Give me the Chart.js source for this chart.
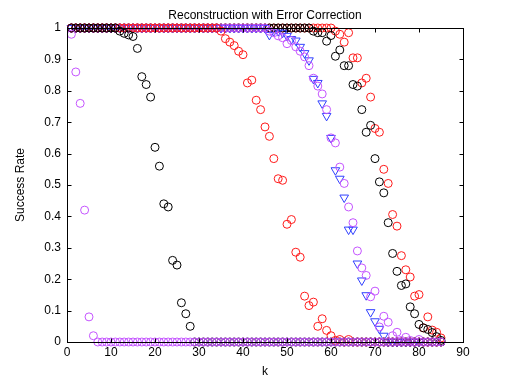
<!DOCTYPE html>
<html>
<head>
<meta charset="utf-8">
<script src="https://cdn.jsdelivr.net/npm/chart.js@4/dist/chart.umd.min.js"></script>
<style>
  html, body { margin: 0; padding: 0; background: #fff; }
  #chart { display: block; }
</style>
</head>
<body>
<canvas id="chart" width="512" height="385"></canvas>
<script>
// success rate per k (k = 1..85)
const blackA = [
  1, 1, 1, 1, 1, 1, 1, 1, 1, 1,
  1, 0.99, 0.983, 0.978, 0.973, 0.935, 0.845, 0.82, 0.78, 0.62,
  0.56, 0.44, 0.43, 0.26, 0.245, 0.125, 0.09, 0.05, 0, 0,
  0, 0, 0, 0, 0, 0, 0, 0, 0, 0,
  0, 0, 0, 0, 0, 0, 0, 0, 0, 0,
  0, 0, 0, 0, 0, 0, 0, 0, 0, 0,
  0, 0, 0, 0, 0, 0, 0, 0, 0, 0,
  0, 0, 0, 0, 0, 0, 0, 0, 0, 0,
  0, 0, 0, 0, 0
];
const magentaA = [
  0.98, 0.86, 0.76, 0.42, 0.08, 0.02, 0, 0, 0, 0,
  0, 0, 0, 0, 0, 0, 0, 0, 0, 0,
  0, 0, 0, 0, 0, 0, 0, 0, 0, 0,
  0, 0, 0, 0, 0, 0, 0, 0, 0, 0,
  0, 0, 0, 0, 0, 0, 0, 0, 0, 0,
  0, 0, 0, 0, 0, 0, 0, 0, 0, 0,
  0, 0, 0, 0, 0, 0, 0, 0, 0, 0,
  0, 0, 0, 0, 0, 0, 0, 0, 0, 0,
  0, 0, 0, 0, 0
];
const redA = [
  1, 1, 1, 1, 1, 1, 1, 1, 1, 1,
  1, 1, 1, 1, 1, 1, 1, 1, 1, 1,
  1, 1, 1, 1, 1, 1, 1, 1, 1, 1,
  1, 1, 1, 1, 0.99, 0.966, 0.955, 0.944, 0.926, 0.915,
  0.825, 0.834, 0.77, 0.74, 0.685, 0.655, 0.584, 0.52, 0.515, 0.375,
  0.39, 0.286, 0.27, 0.146, 0.116, 0.127, 0.05, 0.074, 0.037, 0.02,
  0.005, 0.008, 0, 0.008, 0, 0, 0, 0, 0, 0,
  0, 0, 0, 0, 0, 0, 0, 0, 0, 0,
  0, 0, 0, 0, 0
];
const blueTri = [
  1, 1, 1, 1, 1, 1, 1, 1, 1, 1,
  1, 1, 1, 1, 1, 1, 1, 1, 1, 1,
  1, 1, 1, 1, 1, 1, 1, 1, 1, 1,
  1, 1, 1, 1, 1, 1, 1, 1, 1, 1,
  1, 1, 1, 1, 1, 0.978, 0.99, 0.99, 0.985, 0.975,
  0.965, 0.96, 0.94, 0.92, 0.897, 0.838, 0.825, 0.76, 0.72, 0.65,
  0.547, 0.52, 0.46, 0.358, 0.358, 0.25, 0.196, 0.149, 0.095, 0.066,
  0.042, 0.02, 0, 0, 0, 0, 0, 0, 0, 0,
  null, null, null, null, null
];
const magentaB = [
  1, 1, 1, 1, 1, 1, 1, 1, 1, 1,
  1, 1, 1, 1, 1, 1, 1, 1, 1, 1,
  1, 1, 1, 1, 1, 1, 1, 1, 1, 1,
  1, 1, 1, 1, 1, 1, 1, 1, 1, 1,
  1, 1, 1, 1, 1, 0.99, 0.985, 0.975, 0.969, 0.95,
  0.96, 0.94, 0.926, 0.908, 0.88, 0.84, 0.815, 0.79, 0.74, 0.65,
  0.634, 0.557, 0.505, 0.43, 0.38, 0.29, 0.236, 0.212, 0.144, 0.162,
  0.048, 0.082, 0.063, 0.02, 0.031, 0.005, 0.015, 0.005, 0, 0.008,
  0, 0, 0, 0, 0
];
const blackB = [
  1, 1, 1, 1, 1, 1, 1, 1, 1, 1,
  1, 1, 1, 1, 1, 1, 1, 1, 1, 1,
  1, 1, 1, 1, 1, 1, 1, 1, 1, 1,
  1, 1, 1, 1, 1, 1, 1, 1, 1, 1,
  1, 1, 1, 1, 1, 1, 1, 1, 1, 1,
  1, 1, 1, 1, 1, 0.99, 0.985, 0.985, 0.958, 0.976,
  0.91, 0.93, 0.88, 0.88, 0.82, 0.815, 0.74, 0.668, 0.69, 0.584,
  0.51, 0.475, 0.38, 0.282, 0.225, 0.18, 0.185, 0.112, 0.09, 0.056,
  0.045, 0.04, 0.03, 0.017, 0.005
];
const redB = [
  1, 1, 1, 1, 1, 1, 1, 1, 1, 1,
  1, 1, 1, 1, 1, 1, 1, 1, 1, 1,
  1, 1, 1, 1, 1, 1, 1, 1, 1, 1,
  1, 1, 1, 1, 1, 1, 1, 1, 1, 1,
  1, 1, 1, 1, 1, 1, 1, 1, 1, 1,
  1, 1, 1, 1, 1, 1, 1, 1, 1, 1,
  0.99, 0.98, 0.955, 0.985, 0.905, 0.905, 0.825, 0.84, 0.78, 0.68,
  0.668, 0.55, 0.505, 0.406, 0.369, 0.275, 0.23, 0.207, 0.146, 0.151,
  0.045, 0.08, 0.038, 0.031, 0.013
];

const xTicks = [0, 10, 20, 30, 40, 50, 60, 70, 80, 90];
const yTicks = [0, 0.1, 0.2, 0.3, 0.4, 0.5, 0.6, 0.7, 0.8, 0.9, 1];

const FONT = '"Liberation Sans", Arial, Helvetica, sans-serif';
const RED = '#ff1a1a';
const BLACK = '#000000';
const BLUE = '#3040ff';
const MAGENTA = 'rgb(196, 84, 255)';

const toPts = arr => arr.map((v, i) => ({ x: i + 1, y: v }));

function circles(data, color) {
  return {
    data: toPts(data),
    showLine: false,
    pointStyle: 'circle',
    pointRadius: 4,
    pointBorderWidth: 1,
    pointBorderColor: color,
    pointBackgroundColor: 'rgba(0,0,0,0)',
    clip: false
  };
}

// index 0 is painted last (on top)
const datasets = [
  circles(magentaA, MAGENTA),
  circles(blackA, BLACK),
  circles(redA, RED),
  circles(magentaB, MAGENTA),
  Object.assign(circles(blueTri, BLUE), { pointStyle: 'triangle', pointRotation: 180, pointRadius: 5 }),
  circles(blackB, BLACK),
  circles(redB, RED)
];

// matlab style box with inward ticks
const boxPlugin = {
  id: 'box',
  afterDraw(chart) {
    const { ctx, chartArea: a, scales } = chart;
    const L = Math.round(a.left) + 0.5, R = Math.round(a.right) + 0.5;
    const T = Math.round(a.top) + 0.5, B = Math.round(a.bottom) + 0.5;
    ctx.save();
    ctx.strokeStyle = '#000';
    ctx.lineWidth = 1;
    ctx.strokeRect(L, T, R - L, B - T);
    ctx.beginPath();
    xTicks.forEach(t => {
      const x = Math.round(scales.x.getPixelForValue(t)) + 0.5;
      ctx.moveTo(x, B); ctx.lineTo(x, B - 4);
      ctx.moveTo(x, T); ctx.lineTo(x, T + 4);
    });
    yTicks.forEach(t => {
      const y = Math.round(scales.y.getPixelForValue(t)) + 0.5;
      ctx.moveTo(L, y); ctx.lineTo(L + 4, y);
      ctx.moveTo(R, y); ctx.lineTo(R - 4, y);
    });
    ctx.stroke();
    ctx.restore();
  }
};

new Chart(document.getElementById('chart'), {
  type: 'scatter',
  data: { datasets },
  options: {
    responsive: false,
    animation: false,
    events: [],
    layout: { padding: { left: 0, right: 49, top: 0, bottom: 0 } },
    plugins: {
      legend: { display: false },
      tooltip: { enabled: false },
      title: {
        display: true,
        fullSize: false,
        text: 'Reconstruction with Error Correction',
        color: '#000',
        font: { family: FONT, size: 12, weight: 'normal' },
        padding: { top: 8, bottom: 5.6 }
      }
    },
    scales: {
      x: {
        type: 'linear',
        min: 0,
        max: 90,
        afterBuildTicks: s => { s.ticks = xTicks.map(v => ({ value: v })); },
        afterFit: s => { s.height = 43; },
        grid: { display: false, drawTicks: false },
        border: { display: false },
        ticks: { color: '#000', font: { family: FONT, size: 12 }, padding: 3, maxRotation: 0 },
        title: { display: true, text: 'k', color: '#000', font: { family: FONT, size: 12 }, padding: { top: 0, bottom: 6 } }
      },
      y: {
        type: 'linear',
        min: 0,
        max: 1,
        afterBuildTicks: s => { s.ticks = yTicks.map(v => ({ value: v })); },
        afterFit: s => { s.width = 67; },
        grid: { display: false, drawTicks: false },
        border: { display: false },
        ticks: { color: '#000', font: { family: FONT, size: 12 }, padding: 6, callback: v => String(v) },
        title: { display: true, text: 'Success Rate', color: '#000', font: { family: FONT, size: 12 }, padding: { top: 13, bottom: 0 } }
      }
    }
  },
  plugins: [boxPlugin]
});
</script>
</body>
</html>
